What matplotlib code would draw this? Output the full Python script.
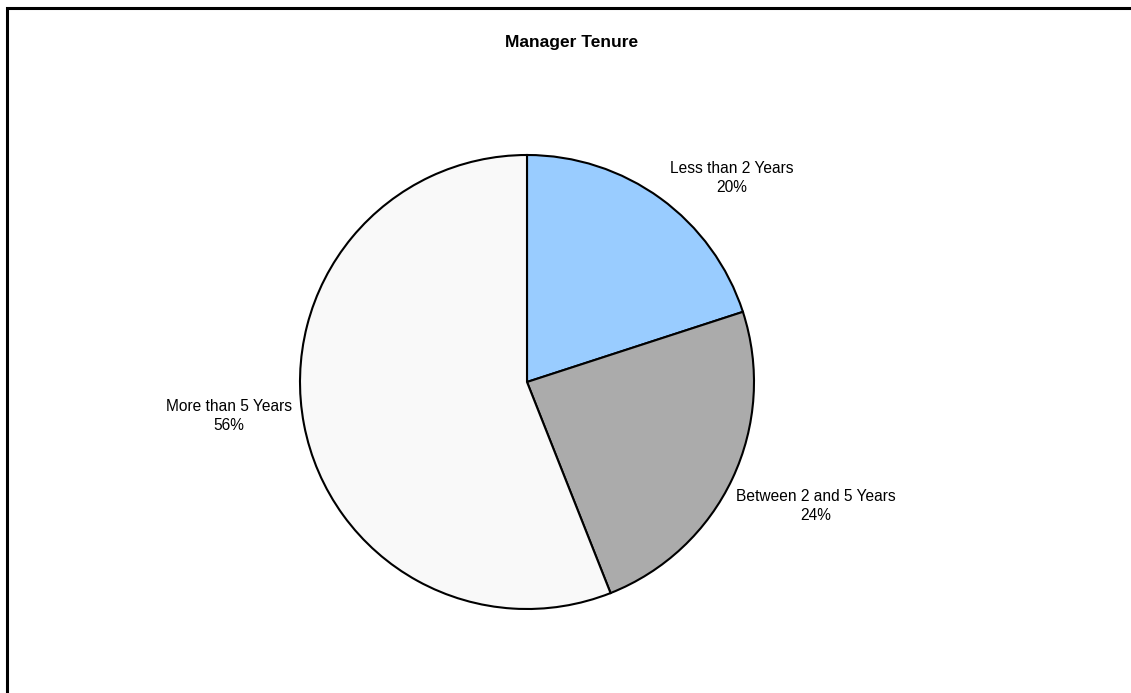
import matplotlib.pyplot as plt
from matplotlib.patches import Rectangle

plt.rcParams["font.family"] = ["Liberation Sans", "DejaVu Sans"]

W, H = 1131, 693

categories = ["Less than 2 Years", "Between 2 and 5 Years", "More than 5 Years"]
shares = [20, 24, 56]
colors = ["#99CCFF", "#ABABAB", "#F9F9F9"]
# label anchors in pixel coordinates (x, y from top)
label_pos = [(732, 178), (816, 506), (229, 416)]

fig = plt.figure(figsize=(W / 100, H / 100), dpi=100)
ax = fig.add_axes([0, 0, 1, 1])

ax.pie(shares, colors=colors, startangle=90, counterclock=False,
       center=(527, H - 382), radius=227,
       wedgeprops=dict(edgecolor="black", linewidth=1.5))

for name, val, (px, py) in zip(categories, shares, label_pos):
    ax.text(px, H - py, f"{name}\n{val}%", ha="center", va="center",
            fontsize=11.2, linespacing=1.3)

# title is centred on the whole chart area, which runs past the right edge
ax.text(572, H - 42, "Manager Tenure", ha="center", va="center",
        fontsize=12.5, fontweight="bold")

# chart border, runs off the right and bottom edges
ax.add_patch(Rectangle((7, -20), W + 20, H - 8 + 20, fill=False,
                       edgecolor="black", linewidth=2.2))

ax.set_xlim(0, W)
ax.set_ylim(0, H)
ax.set_aspect("equal")
ax.axis("off")

fig.savefig("out.png", dpi=100)
